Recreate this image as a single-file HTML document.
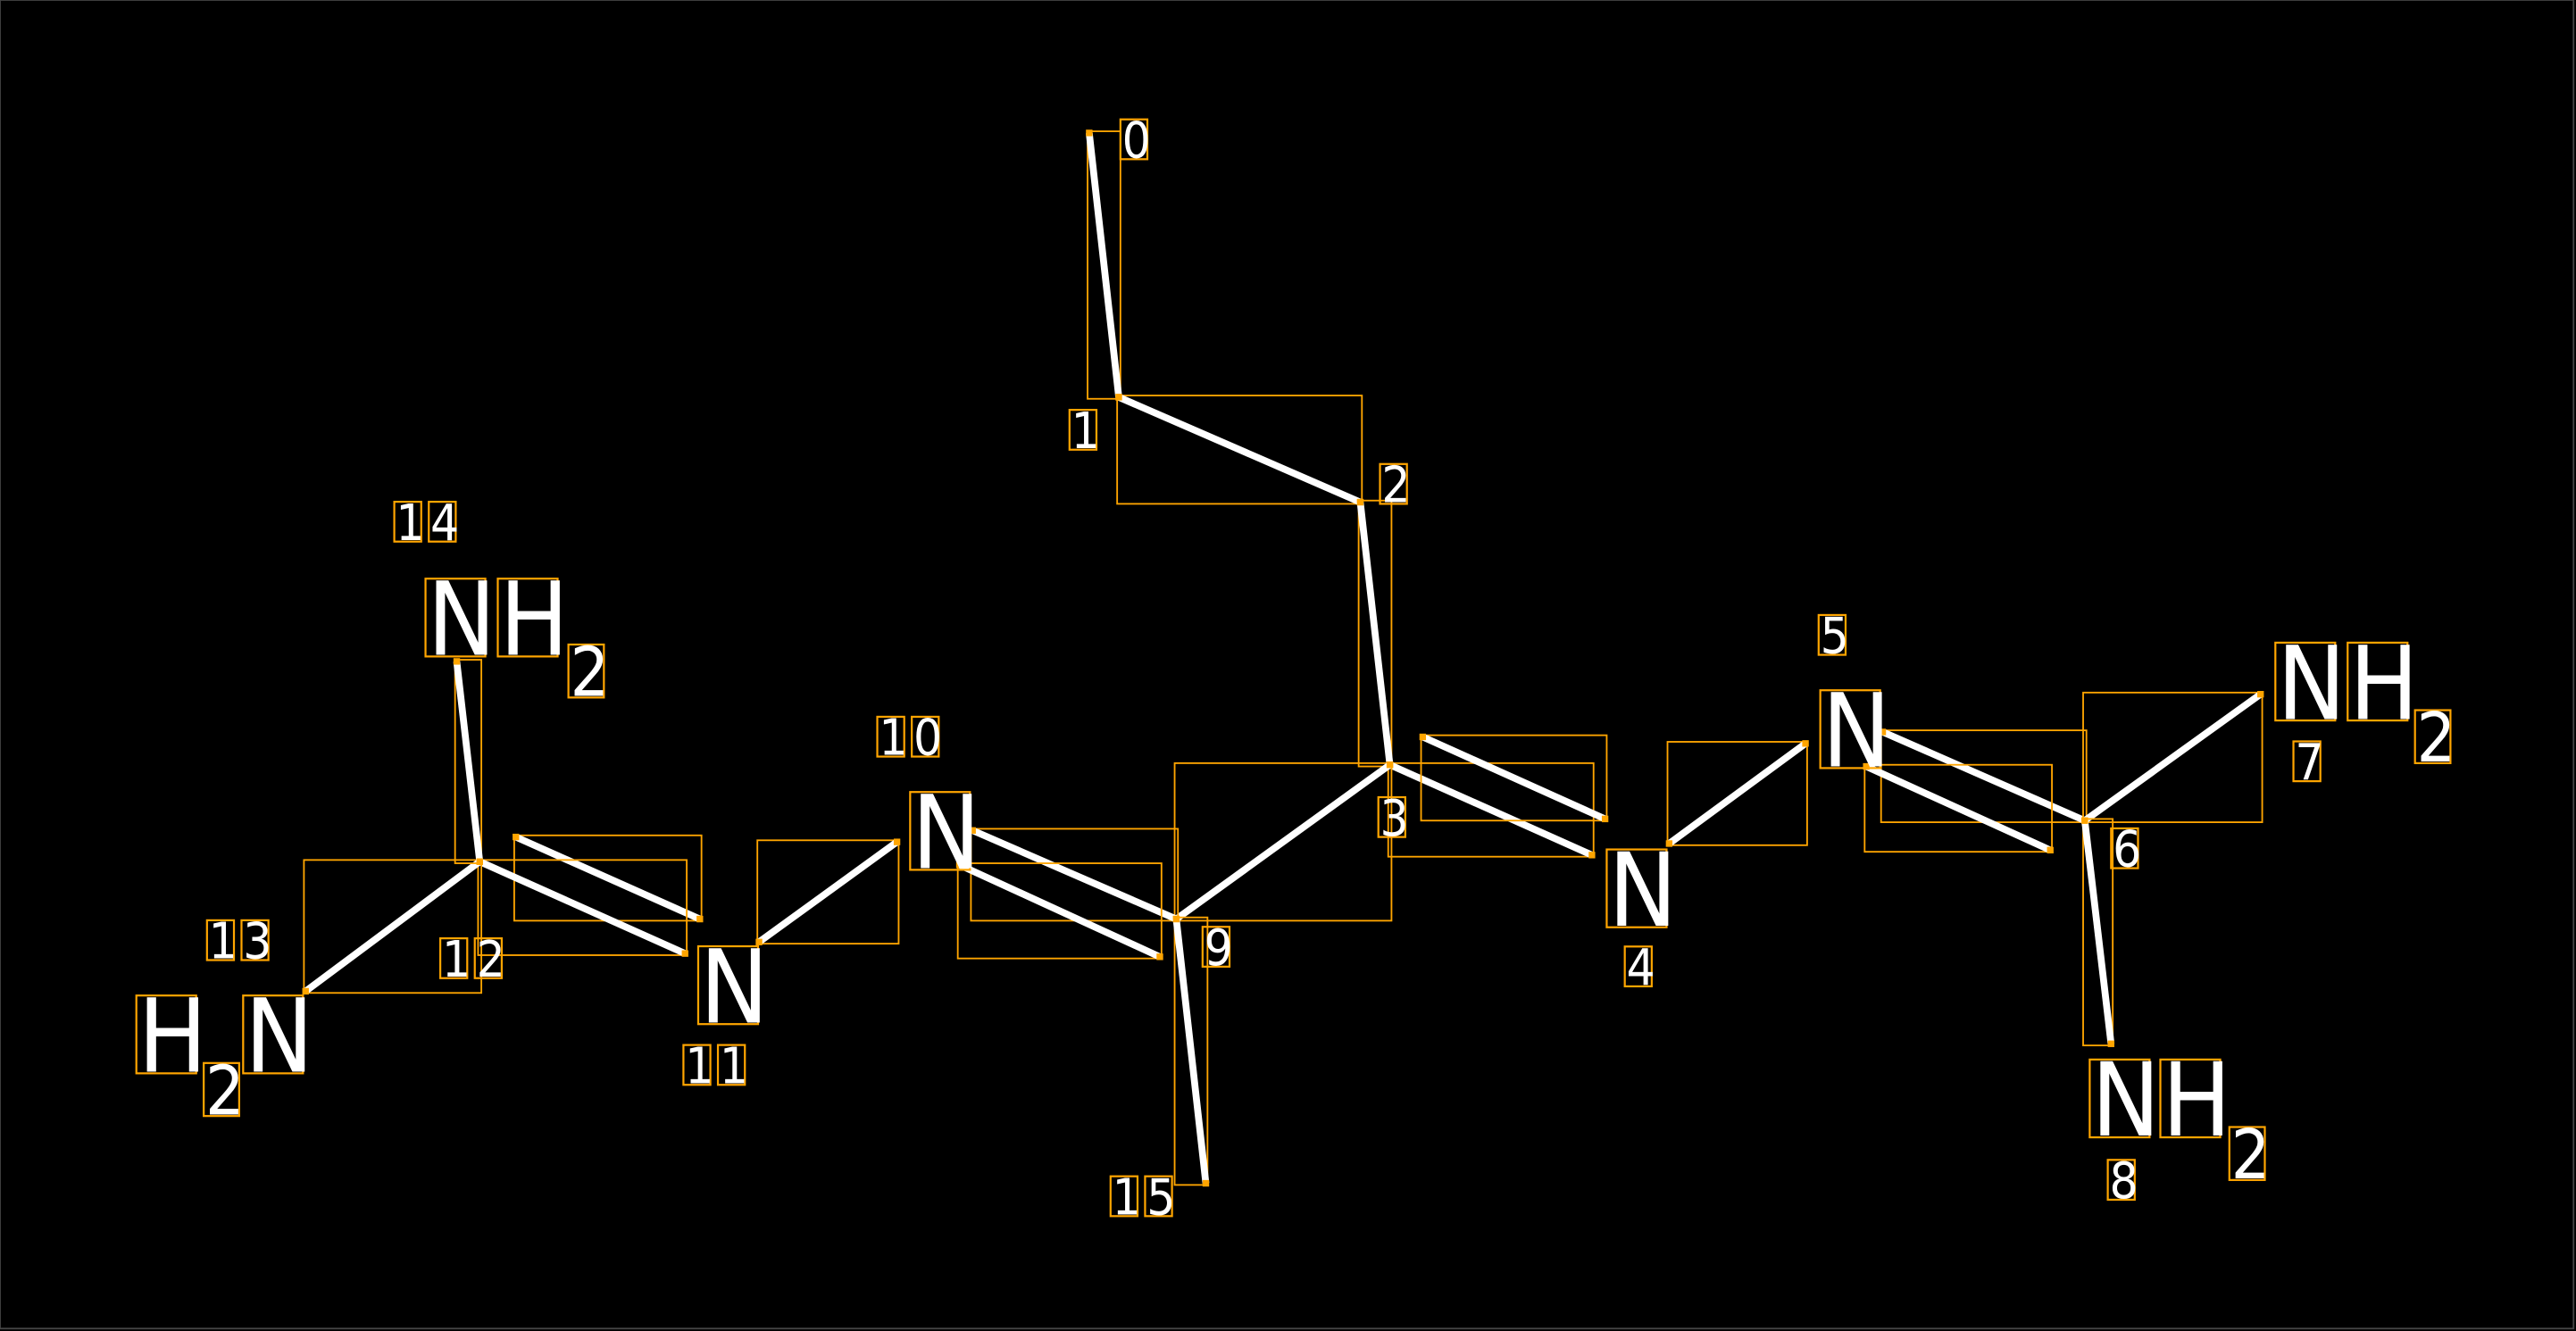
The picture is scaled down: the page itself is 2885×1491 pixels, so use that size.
<!DOCTYPE html>
<html><head><style>html,body{margin:0;padding:0;background:#000;overflow:hidden}svg{display:block}</style></head>
<body>
<svg id="s" width="2885" height="1491" viewBox="0 0 1568 811" preserveAspectRatio="none" xmlns="http://www.w3.org/2000/svg">
<rect x="0" y="0" width="1566.5" height="809.5" fill="#000" stroke="#444" stroke-width="1"/>
<g id="b"></g><g id="t"></g>
</svg>
<script>
var NS="http://www.w3.org/2000/svg";
var B=document.getElementById('b'),T=document.getElementById('t');
function el(tag,a,p){var e=document.createElementNS(NS,tag);for(var k in a)e.setAttribute(k,a[k]);p.appendChild(e);return e;}
var bonds=[
[663,81,681,242],[681,242,828,306],[828,306,846,466],
[846,466,969,521],[866,449,977,499],
[1016,514,1099,453],
[1146,446,1269,500],[1136,467,1248,518],
[1269,500,1376,423],[1269,500,1285,636],
[846,466,716,560],
[716,560,592,506],[706,583,584,527],
[546,513,462,574],
[426,560,314,510],[417,581,292,525],
[292,525,186,604],[292,525,278,403],
[716,560,734,721]];
bonds.forEach(function(b){
 var x=Math.min(b[0],b[2]),y=Math.min(b[1],b[3]),w=Math.abs(b[0]-b[2]),h=Math.abs(b[1]-b[3]);
 el('rect',{x:x-1,y:y-1,width:w+2,height:h+2,fill:'none',stroke:'#ffa500','stroke-width':1},B);
 el('line',{x1:b[0],y1:b[1],x2:b[2],y2:b[3],stroke:'#fff','stroke-width':4.2},B);
 el('rect',{x:b[0]-2,y:b[1]-2,width:4,height:4,fill:'#ffa500'},B);
 el('rect',{x:b[2]-2,y:b[3]-2,width:4,height:4,fill:'#ffa500'},B);
});
var adv={N:0.75,H:0.75};
function ch(x,base,size,c){
 var capH=0.73*size*1.22, w=(adv[c]||0.64)*size*0.9;
 el('rect',{x:x-1,y:base-capH-1,width:w+2,height:capH+2,fill:'none',stroke:'#ffa500','stroke-width':1.2},T);
 var t=el('text',{transform:'translate('+x+','+base+') scale(1.1,1.22)','font-family':'DejaVu Sans, Liberation Sans, sans-serif','font-size':size,fill:'#fff'},T);
 t.textContent=c;
}
var B1=51,S2=34,D=25;
ch(260,399,B1,'N');ch(304,399,B1,'H');ch(347,424,S2,'2');
ch(84,653,B1,'H');ch(125,679,S2,'2');ch(149,653,B1,'N');
ch(426,623,B1,'N');ch(555,529,B1,'N');ch(979,564,B1,'N');ch(1109,467,B1,'N');
ch(1386,438,B1,'N');ch(1430,438,B1,'H');ch(1471,464,S2,'2');
ch(1273,692,B1,'N');ch(1316,692,B1,'H');ch(1358,718,S2,'2');
var idx=[['0',683,96],['1',652,273],['2',841,306],['3',840,509],['4',990,600],['5',1108,398],['6',1286,528],['7',1397,475],['8',1284,730],['9',733,588],['10',535,460],['11',417,660],['12',269,595],['13',127,584],['14',241,329],['15',677,740]];
idx.forEach(function(a){for(var i=0;i<a[0].length;i++)ch(a[1]+i*21,a[2],D,a[0][i]);});
</script>
</body></html>
